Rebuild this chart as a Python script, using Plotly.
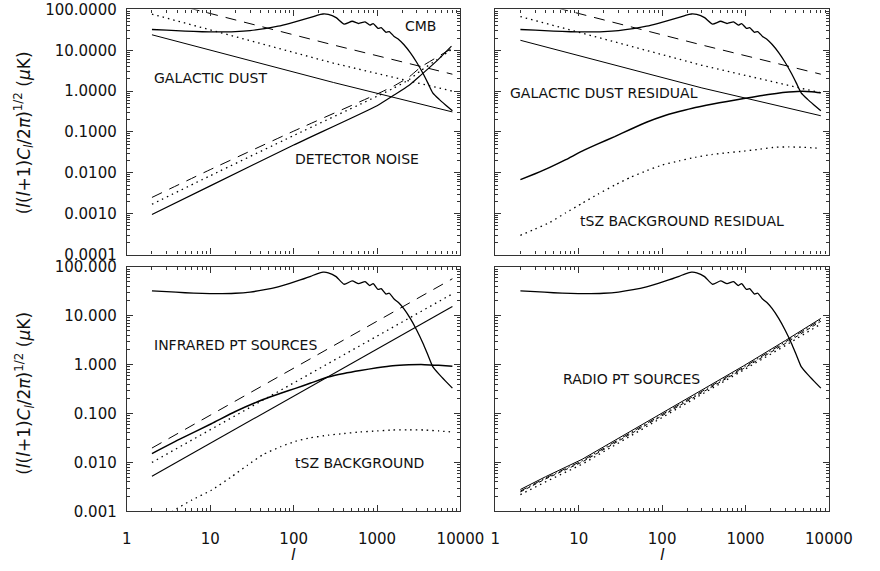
import plotly.graph_objects as go

# ---------------- data ----------------
ell_cmb = [2, 3, 5, 8, 12, 20, 30, 45, 65, 90, 120, 160, 190, 225, 260, 323, 403,
           503, 600, 718, 820, 898, 1025, 1120, 1280, 1400, 1600, 1830, 2090, 2500,
           2980, 3560, 4070, 4650, 5560, 6620, 8000]
cmb = [32.3, 31.2, 29.5, 28.5, 28.2, 28.8, 30.5, 34.0, 39.0, 46.0, 54.0, 64.0, 72.0,
       77.5, 75.5, 63.0, 44.0, 51.5, 45.3, 49.7, 41.4, 45.3, 34.5, 35.8, 27.7, 28.8,
       21.9, 18.2, 13.9, 8.8, 5.1, 2.7, 1.57, 0.91, 0.63, 0.46, 0.33]

# galactic dust (top panels)
ell_dust = [2, 300, 8000]
dust_dash_tl = [185.0, 13.5, 2.6]
dust_dot_tl = [77.0, 4.84, 1.0]
dust_solid_tl = [24.0, 1.63, 0.31]
dust_dash_tr = [185.0, 13.5, 2.6]
dust_dot_tr = [67.0, 4.3, 0.91]
dust_solid_tr = [17.6, 1.2, 0.25]

# detector noise (top-left)
ell_noise = [2, 10, 100, 1000, 1600, 2400, 3350, 5240, 7800]
noise_dash = [0.0025, 0.012, 0.105, 0.85, 1.35, 2.2, 3.9, 6.8, 11.0]
noise_dot = [0.0017, 0.0085, 0.082, 0.75, 1.2, 1.9, 3.2, 5.9, 10.5]
noise_solid = [0.00095, 0.0048, 0.048, 0.44, 0.8, 1.37, 2.47, 5.6, 12.7]

# residuals (top-right)
ell_res = [2, 3, 4.5, 7, 11, 17, 27, 42, 66, 100, 160, 250, 392, 600, 955, 1500,
           2340, 3300, 4790, 6200, 8000]
dust_residual = [0.0068, 0.0095, 0.0136, 0.021, 0.034, 0.051, 0.077, 0.117, 0.176,
                 0.24, 0.316, 0.40, 0.48, 0.56, 0.66, 0.77, 0.88, 0.95, 1.0, 0.97, 0.91]
tsz_residual = [0.000295, 0.00042, 0.00061, 0.00105, 0.0018, 0.003, 0.005, 0.0078,
                0.0114, 0.0155, 0.0196, 0.024, 0.028, 0.031, 0.034, 0.038, 0.0425,
                0.043, 0.0425, 0.041, 0.04]

# infrared point sources (bottom-left)
ell_ir = [2, 8000]
ir_dash = [0.0197, 57.0]
ir_dot = [0.010, 28.0]
ir_solid = [0.0052, 15.5]
ell_irc = [2, 4.5, 10.3, 20, 43, 70, 105, 160, 258, 400, 630, 1000, 1540, 2400, 3700, 5500, 8000]
ir_curve = [0.0152, 0.031, 0.0617, 0.11, 0.193, 0.26, 0.327, 0.42, 0.557, 0.66, 0.76,
            0.86, 0.95, 0.99, 1.0, 0.97, 0.93]
ell_tsz = [2, 3.55, 6, 10.3, 17.7, 28, 43, 70, 105, 160, 258, 400, 630, 1000, 1540,
           2400, 3700, 5500, 8000]
tsz_bg = [0.0004, 0.001, 0.0017, 0.0027, 0.005, 0.0088, 0.0145, 0.021, 0.027, 0.032,
          0.036, 0.039, 0.042, 0.044, 0.046, 0.0465, 0.046, 0.044, 0.042]

# radio point sources (bottom-right)
ell_radio = [2, 4, 11, 30, 103, 330, 955, 3000, 8000]
radio_solid = [0.0028, 0.0051, 0.0116, 0.031, 0.105, 0.33, 0.95, 3.1, 8.8]
radio_dashdot = [0.0026, 0.0048, 0.0108, 0.029, 0.098, 0.31, 0.89, 2.9, 8.3]
radio_dash = [0.0025, 0.0046, 0.0102, 0.0275, 0.093, 0.29, 0.84, 2.7, 7.7]
radio_dot = [0.0022, 0.0040, 0.0092, 0.025, 0.085, 0.265, 0.76, 2.45, 6.8]

x_ticks = [1, 10, 100, 1000, 10000]
x_ticktext = ["1", "10", "100", "1000", "10000"]
y_ticks_top = [1e-4, 1e-3, 1e-2, 1e-1, 1, 10, 100]
y_ticktext_top = ["0.0001", "0.0010", "0.0100", "0.1000", "1.0000", "10.0000", "100.0000"]
y_ticks_bot = [1e-3, 1e-2, 1e-1, 1, 10, 100]
y_ticktext_bot = ["0.001", "0.010", "0.100", "1.000", "10.000", "100.000"]

panel_labels = [
    ("CMB", 412, 18),
    ("GALACTIC DUST", 152, 71),
    ("DETECTOR NOISE", 298, 155),
    ("GALACTIC DUST RESIDUAL", 520, 87),
    ("tSZ BACKGROUND RESIDUAL", 593, 219),
    ("INFRARED PT SOURCES", 152, 347),
    ("tSZ BACKGROUND", 298, 469),
    ("RADIO PT SOURCES", 575, 382),
]

# ---------------- figure ----------------
W, H = 880, 571
FONT = "DejaVu Sans"
INK = "#000000"

DASH = "11px,8px"
DOT = "1.5px,4px"
DASHDOT = "7px,3px,1.5px,3px"

fig = go.Figure()


def line(xa, ya, x, y, dash="solid", width=1.0, smooth=False):
    ln = dict(color=INK, width=width, dash=dash)
    if smooth:
        ln.update(shape="spline", smoothing=0.5)
    fig.add_trace(go.Scatter(x=x, y=y, mode="lines", xaxis=xa, yaxis=ya, line=ln,
                             showlegend=False, hoverinfo="skip"))


# top-left
line("x", "y", ell_cmb, cmb, width=1.3, smooth=True)
line("x", "y", ell_dust, dust_dash_tl, DASH)
line("x", "y", ell_dust, dust_dot_tl, DOT, 1.3)
line("x", "y", ell_dust, dust_solid_tl)
line("x", "y", ell_noise, noise_dash, DASH, smooth=True)
line("x", "y", ell_noise, noise_dot, DOT, 1.3, smooth=True)
line("x", "y", ell_noise, noise_solid, width=1.2, smooth=True)
# top-right
line("x2", "y2", ell_cmb, cmb, width=1.3, smooth=True)
line("x2", "y2", ell_dust, dust_dash_tr, DASH)
line("x2", "y2", ell_dust, dust_dot_tr, DOT, 1.3)
line("x2", "y2", ell_dust, dust_solid_tr)
line("x2", "y2", ell_res, dust_residual, width=1.5, smooth=True)
line("x2", "y2", ell_res, tsz_residual, DOT, 1.3, smooth=True)
# bottom-left
line("x3", "y3", ell_cmb, cmb, width=1.3, smooth=True)
line("x3", "y3", ell_ir, ir_dash, DASH)
line("x3", "y3", ell_ir, ir_dot, DOT, 1.3)
line("x3", "y3", ell_ir, ir_solid, width=1.1)
line("x3", "y3", ell_irc, ir_curve, width=1.5, smooth=True)
line("x3", "y3", ell_tsz, tsz_bg, DOT, 1.3, smooth=True)
# bottom-right
line("x4", "y4", ell_cmb, cmb, width=1.3, smooth=True)
line("x4", "y4", ell_radio, radio_solid)
line("x4", "y4", ell_radio, radio_dashdot, DASHDOT)
line("x4", "y4", ell_radio, radio_dash, "4px,3px")
line("x4", "y4", ell_radio, radio_dot, DOT, 1.3)


def px_x(px):
    return px / W


def px_y(py):
    return 1 - py / H


x_left = [px_x(126), px_x(471)]
x_right = [px_x(507), px_x(852)]
y_top = [px_y(253.5), px_y(0.5)]
y_bot = [px_y(518.7), px_y(266.2)]

minor_x = [m * 10 ** d for d in range(0, 4) for m in range(2, 10)]
minor_y_top = [m * 10.0 ** d for d in range(-4, 2) for m in range(2, 10)]
minor_y_bot = [m * 10.0 ** d for d in range(-3, 2) for m in range(2, 10)]

tickfont = dict(family=FONT, size=15, color="#111")


def xaxis(domain, anchor, labels):
    return dict(domain=domain, anchor=anchor, type="log", range=[0, 4],
                showline=True, linecolor="#333", linewidth=1.2, mirror="allticks",
                ticks="inside", ticklen=6, tickcolor="#333", tickwidth=1,
                tickmode="array", tickvals=x_ticks, ticktext=x_ticktext,
                showticklabels=labels, tickfont=tickfont, ticklabelstandoff=14,
                minor=dict(ticks="inside", ticklen=3, tickcolor="#333", tickwidth=1,
                           tickmode="array", tickvals=minor_x, showgrid=False),
                showgrid=False, zeroline=False)


def yaxis(domain, anchor, rng, vals, texts, labels, minor_vals):
    return dict(domain=domain, anchor=anchor, type="log", range=rng,
                showline=True, linecolor="#333", linewidth=1.2, mirror="allticks",
                ticks="inside", ticklen=6, tickcolor="#333", tickwidth=1,
                tickmode="array", tickvals=vals, ticktext=texts,
                showticklabels=labels, tickfont=tickfont, ticklabelstandoff=6,
                minor=dict(ticks="inside", ticklen=3, tickcolor="#333", tickwidth=1,
                           tickmode="array", tickvals=minor_vals, showgrid=False),
                showgrid=False, zeroline=False)


fig.update_layout(
    width=W, height=H,
    margin=dict(l=0, r=0, t=0, b=0),
    paper_bgcolor="white", plot_bgcolor="white",
    xaxis=xaxis(x_left, "y", False),
    yaxis=yaxis(y_top, "x", [-4, 2], y_ticks_top, y_ticktext_top, True, minor_y_top),
    xaxis2=xaxis(x_right, "y2", False),
    yaxis2=yaxis(y_top, "x2", [-4, 2], y_ticks_top, y_ticktext_top, False, minor_y_top),
    xaxis3=xaxis(x_left, "y3", True),
    yaxis3=yaxis(y_bot, "x3", [-3, 2], y_ticks_bot, y_ticktext_bot, True, minor_y_bot),
    xaxis4=xaxis(x_right, "y4", True),
    yaxis4=yaxis(y_bot, "x4", [-3, 2], y_ticks_bot, y_ticktext_bot, False, minor_y_bot),
)

annotations = []
for text, lx, cy in panel_labels:
    annotations.append(dict(text=text, x=px_x(lx), y=px_y(cy), xref="paper", yref="paper",
                            xanchor="left", yanchor="middle", showarrow=False,
                            font=dict(family=FONT, size=14, color="#111")))

ytitle = "(<i>l</i>(<i>l</i>+1)<i>C<sub>l</sub></i>/2<i>π</i>)<sup>1/2</sup> (<i>μ</i>K)"
for cy in (128, 397):
    annotations.append(dict(text=ytitle, x=px_x(20), y=px_y(cy), xref="paper", yref="paper",
                            xanchor="center", yanchor="middle", textangle=-90, showarrow=False,
                            font=dict(family=FONT, size=17, color="#111")))
for cx in (298, 680):
    annotations.append(dict(text="<i>l</i>", x=px_x(cx), y=px_y(563), xref="paper", yref="paper",
                            xanchor="center", yanchor="middle", showarrow=False,
                            font=dict(family=FONT, size=16, color="#111")))
fig.update_layout(annotations=annotations)

fig.write_html("out.html")
